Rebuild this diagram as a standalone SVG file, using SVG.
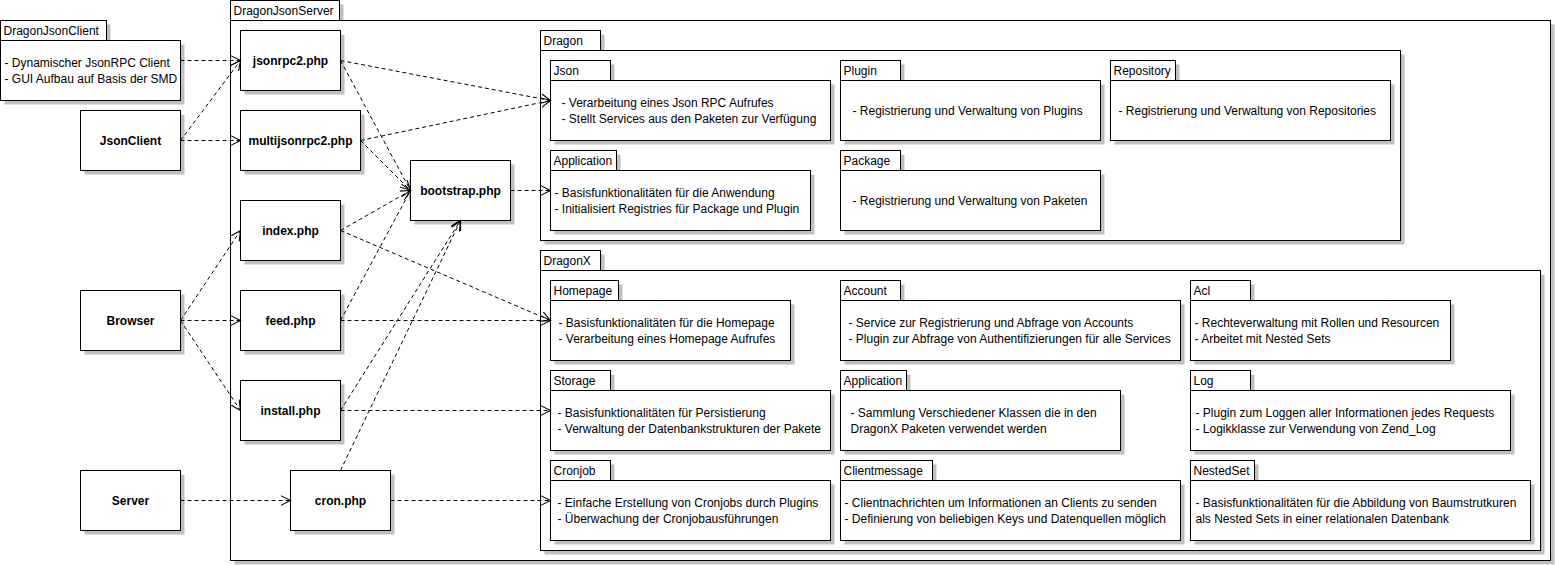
<svg xmlns="http://www.w3.org/2000/svg" width="1555" height="565" viewBox="0 0 1555 565">
<style>
.sh{fill:#c0c0c0;stroke:none}
.bx{fill:#fff;stroke:#000;stroke-width:1}
.t{font-family:"Liberation Sans",Arial,sans-serif;font-size:12px;fill:#000}
.b{font-family:"Liberation Sans",Arial,sans-serif;font-size:12px;font-weight:bold;fill:#000;text-anchor:middle}
.c{fill:none;stroke:#000;stroke-width:1;stroke-dasharray:4 3;marker-end:url(#arr)}
</style>
<defs>
<marker id="arr" markerUnits="userSpaceOnUse" markerWidth="11" markerHeight="11" viewBox="0 0 10 10" refX="9" refY="5" orient="auto">
<path d="M0,0.5 L9,5 L0,9.5" fill="none" stroke="#000" stroke-width="1"/>
</marker>
</defs>
<rect x="0" y="0" width="1555" height="565" fill="#fff"/>
<g transform="translate(0.5 0.5)">

<g id="DragonJsonClient">
<rect class="sh" x="4" y="24" width="106" height="20"/>
<rect class="sh" x="4" y="44" width="180" height="60"/>
<rect class="bx" x="0" y="20" width="106" height="20"/>
<rect class="bx" x="0" y="40" width="180" height="60"/>
<text class="t" x="3" y="34">DragonJsonClient</text>
<text class="t" x="4" y="66">- Dynamischer JsonRPC Client</text>
<text class="t" x="4" y="82">- GUI Aufbau auf Basis der SMD</text>
</g>

<g id="JsonClient">
<rect class="sh" x="84" y="114" width="100" height="60"/>
<rect class="bx" x="80" y="110" width="100" height="60"/>
<text class="b" x="130" y="144">JsonClient</text>
</g>
<g id="Browser">
<rect class="sh" x="84" y="294" width="100" height="60"/>
<rect class="bx" x="80" y="290" width="100" height="60"/>
<text class="b" x="130" y="324">Browser</text>
</g>
<g id="Server">
<rect class="sh" x="84" y="474" width="100" height="60"/>
<rect class="bx" x="80" y="470" width="100" height="60"/>
<text class="b" x="130" y="504">Server</text>
</g>

<g id="DragonJsonServer">
<rect class="sh" x="234" y="4" width="109" height="20"/>
<rect class="sh" x="234" y="24" width="1320" height="540"/>
<rect class="bx" x="230" y="0" width="109" height="20"/>
<rect class="bx" x="230" y="20" width="1320" height="540"/>
<text class="t" x="233" y="14">DragonJsonServer</text>
</g>

<g id="jsonrpc2">
<rect class="sh" x="244" y="34" width="100" height="60"/>
<rect class="bx" x="240" y="30" width="100" height="60"/>
<text class="b" x="290" y="64">jsonrpc2.php</text>
</g>
<g id="multijsonrpc2">
<rect class="sh" x="244" y="114" width="120" height="60"/>
<rect class="bx" x="240" y="110" width="120" height="60"/>
<text class="b" x="300" y="144">multijsonrpc2.php</text>
</g>
<g id="index">
<rect class="sh" x="244" y="204" width="100" height="60"/>
<rect class="bx" x="240" y="200" width="100" height="60"/>
<text class="b" x="290" y="234">index.php</text>
</g>
<g id="feed">
<rect class="sh" x="244" y="294" width="100" height="60"/>
<rect class="bx" x="240" y="290" width="100" height="60"/>
<text class="b" x="290" y="324">feed.php</text>
</g>
<g id="install">
<rect class="sh" x="244" y="384" width="100" height="60"/>
<rect class="bx" x="240" y="380" width="100" height="60"/>
<text class="b" x="290" y="414">install.php</text>
</g>
<g id="cron">
<rect class="sh" x="294" y="474" width="100" height="60"/>
<rect class="bx" x="290" y="470" width="100" height="60"/>
<text class="b" x="340" y="504">cron.php</text>
</g>
<g id="bootstrap">
<rect class="sh" x="414" y="164" width="100" height="60"/>
<rect class="bx" x="410" y="160" width="100" height="60"/>
<text class="b" x="460" y="194">bootstrap.php</text>
</g>

<g id="Dragon">
<rect class="sh" x="544" y="34" width="60" height="20"/>
<rect class="sh" x="544" y="54" width="860" height="190"/>
<rect class="bx" x="540" y="30" width="60" height="20"/>
<rect class="bx" x="540" y="50" width="860" height="190"/>
<text class="t" x="543" y="44">Dragon</text>
</g>
<g id="Dragon-Json">
<rect class="sh" x="554" y="64" width="60" height="20"/>
<rect class="sh" x="554" y="84" width="280" height="60"/>
<rect class="bx" x="550" y="60" width="60" height="20"/>
<rect class="bx" x="550" y="80" width="280" height="60"/>
<text class="t" x="553" y="74">Json</text>
<text class="t" x="561" y="106">- Verarbeitung eines Json RPC Aufrufes</text>
<text class="t" x="561" y="122">- Stellt Services aus den Paketen zur Verfügung</text>
</g>
<g id="Dragon-Application">
<rect class="sh" x="554" y="154" width="66" height="20"/>
<rect class="sh" x="554" y="174" width="260" height="60"/>
<rect class="bx" x="550" y="150" width="66" height="20"/>
<rect class="bx" x="550" y="170" width="260" height="60"/>
<text class="t" x="553" y="164">Application</text>
<text class="t" x="554" y="196">- Basisfunktionalitäten für die Anwendung</text>
<text class="t" x="554" y="212">- Initialisiert Registries für Package und Plugin</text>
</g>
<g id="Dragon-Plugin">
<rect class="sh" x="844" y="64" width="60" height="20"/>
<rect class="sh" x="844" y="84" width="260" height="60"/>
<rect class="bx" x="840" y="60" width="60" height="20"/>
<rect class="bx" x="840" y="80" width="260" height="60"/>
<text class="t" x="843" y="74">Plugin</text>
<text class="t" x="852" y="114">- Registrierung und Verwaltung von Plugins</text>
</g>
<g id="Dragon-Package">
<rect class="sh" x="844" y="154" width="60" height="20"/>
<rect class="sh" x="844" y="174" width="260" height="60"/>
<rect class="bx" x="840" y="150" width="60" height="20"/>
<rect class="bx" x="840" y="170" width="260" height="60"/>
<text class="t" x="843" y="164">Package</text>
<text class="t" x="852" y="204">- Registrierung und Verwaltung von Paketen</text>
</g>
<g id="Dragon-Repository">
<rect class="sh" x="1114" y="64" width="65" height="20"/>
<rect class="sh" x="1114" y="84" width="280" height="60"/>
<rect class="bx" x="1110" y="60" width="65" height="20"/>
<rect class="bx" x="1110" y="80" width="280" height="60"/>
<text class="t" x="1113" y="74">Repository</text>
<text class="t" x="1118" y="114">- Registrierung und Verwaltung von Repositories</text>
</g>

<g id="DragonX">
<rect class="sh" x="544" y="254" width="60" height="20"/>
<rect class="sh" x="544" y="274" width="1000" height="280"/>
<rect class="bx" x="540" y="250" width="60" height="20"/>
<rect class="bx" x="540" y="270" width="1000" height="280"/>
<text class="t" x="543" y="264">DragonX</text>
</g>
<g id="DragonX-Homepage">
<rect class="sh" x="554" y="284" width="68" height="20"/>
<rect class="sh" x="554" y="304" width="240" height="60"/>
<rect class="bx" x="550" y="280" width="68" height="20"/>
<rect class="bx" x="550" y="300" width="240" height="60"/>
<text class="t" x="553" y="294">Homepage</text>
<text class="t" x="558" y="326">- Basisfunktionalitäten für die Homepage</text>
<text class="t" x="558" y="342">- Verarbeitung eines Homepage Aufrufes</text>
</g>
<g id="DragonX-Storage">
<rect class="sh" x="554" y="374" width="60" height="20"/>
<rect class="sh" x="554" y="394" width="280" height="60"/>
<rect class="bx" x="550" y="370" width="60" height="20"/>
<rect class="bx" x="550" y="390" width="280" height="60"/>
<text class="t" x="553" y="384">Storage</text>
<text class="t" x="557" y="416">- Basisfunktionalitäten für Persistierung</text>
<text class="t" x="557" y="432">- Verwaltung der Datenbankstrukturen der Pakete</text>
</g>
<g id="DragonX-Cronjob">
<rect class="sh" x="554" y="464" width="60" height="20"/>
<rect class="sh" x="554" y="484" width="280" height="60"/>
<rect class="bx" x="550" y="460" width="60" height="20"/>
<rect class="bx" x="550" y="480" width="280" height="60"/>
<text class="t" x="553" y="474">Cronjob</text>
<text class="t" x="557" y="506">- Einfache Erstellung von Cronjobs durch Plugins</text>
<text class="t" x="557" y="522">- Überwachung der Cronjobausführungen</text>
</g>
<g id="DragonX-Account">
<rect class="sh" x="844" y="284" width="60" height="20"/>
<rect class="sh" x="844" y="304" width="340" height="60"/>
<rect class="bx" x="840" y="280" width="60" height="20"/>
<rect class="bx" x="840" y="300" width="340" height="60"/>
<text class="t" x="843" y="294">Account</text>
<text class="t" x="848" y="326">- Service zur Registrierung und Abfrage von Accounts</text>
<text class="t" x="848" y="342">- Plugin zur Abfrage von Authentifizierungen für alle Services</text>
</g>
<g id="DragonX-Application">
<rect class="sh" x="844" y="374" width="66" height="20"/>
<rect class="sh" x="844" y="394" width="280" height="60"/>
<rect class="bx" x="840" y="370" width="66" height="20"/>
<rect class="bx" x="840" y="390" width="280" height="60"/>
<text class="t" x="843" y="384">Application</text>
<text class="t" x="850" y="416">- Sammlung Verschiedener Klassen die in den</text>
<text class="t" x="850" y="432">DragonX Paketen verwendet werden</text>
</g>
<g id="DragonX-Clientmessage">
<rect class="sh" x="844" y="464" width="92" height="20"/>
<rect class="sh" x="844" y="484" width="340" height="60"/>
<rect class="bx" x="840" y="460" width="92" height="20"/>
<rect class="bx" x="840" y="480" width="340" height="60"/>
<text class="t" x="843" y="474">Clientmessage</text>
<text class="t" x="844" y="506">- Clientnachrichten um Informationen an Clients zu senden</text>
<text class="t" x="844" y="522">- Definierung von beliebigen Keys und Datenquellen möglich</text>
</g>
<g id="DragonX-Acl">
<rect class="sh" x="1194" y="284" width="60" height="20"/>
<rect class="sh" x="1194" y="304" width="260" height="60"/>
<rect class="bx" x="1190" y="280" width="60" height="20"/>
<rect class="bx" x="1190" y="300" width="260" height="60"/>
<text class="t" x="1193" y="294">Acl</text>
<text class="t" x="1194" y="326">- Rechteverwaltung mit Rollen und Resourcen</text>
<text class="t" x="1194" y="342">- Arbeitet mit Nested Sets</text>
</g>
<g id="DragonX-Log">
<rect class="sh" x="1194" y="374" width="60" height="20"/>
<rect class="sh" x="1194" y="394" width="320" height="60"/>
<rect class="bx" x="1190" y="370" width="60" height="20"/>
<rect class="bx" x="1190" y="390" width="320" height="60"/>
<text class="t" x="1193" y="384">Log</text>
<text class="t" x="1195" y="416">- Plugin zum Loggen aller Informationen jedes Requests</text>
<text class="t" x="1195" y="432">- Logikklasse zur Verwendung von Zend_Log</text>
</g>
<g id="DragonX-NestedSet">
<rect class="sh" x="1194" y="464" width="64" height="20"/>
<rect class="sh" x="1194" y="484" width="340" height="60"/>
<rect class="bx" x="1190" y="460" width="64" height="20"/>
<rect class="bx" x="1190" y="480" width="340" height="60"/>
<text class="t" x="1193" y="474">NestedSet</text>
<text class="t" x="1195" y="506">- Basisfunktionalitäten für die Abbildung von Baumstrutkuren</text>
<text class="t" x="1195" y="522">als Nested Sets in einer relationalen Datenbank</text>
</g>

<g id="connectors">
<line class="c" x1="180" y1="60" x2="240" y2="60"/>
<line class="c" x1="180" y1="140" x2="240" y2="60"/>
<line class="c" x1="180" y1="140" x2="240" y2="140"/>
<line class="c" x1="180" y1="320" x2="240" y2="230"/>
<line class="c" x1="180" y1="320" x2="240" y2="320"/>
<line class="c" x1="180" y1="320" x2="240" y2="410"/>
<line class="c" x1="180" y1="500" x2="290" y2="500"/>
<line class="c" x1="340" y1="60" x2="550" y2="100"/>
<line class="c" x1="360" y1="140" x2="550" y2="100"/>
<line class="c" x1="340" y1="60" x2="410" y2="190"/>
<line class="c" x1="360" y1="140" x2="410" y2="190"/>
<line class="c" x1="340" y1="230" x2="410" y2="190"/>
<line class="c" x1="340" y1="320" x2="410" y2="190"/>
<line class="c" x1="340" y1="410" x2="460" y2="220"/>
<line class="c" x1="340" y1="470" x2="460" y2="220"/>
<line class="c" x1="510" y1="190" x2="550" y2="190"/>
<line class="c" x1="340" y1="230" x2="550" y2="320"/>
<line class="c" x1="340" y1="320" x2="550" y2="320"/>
<line class="c" x1="340" y1="410" x2="550" y2="410"/>
<line class="c" x1="390" y1="500" x2="550" y2="500"/>
</g>
</g>
</svg>
